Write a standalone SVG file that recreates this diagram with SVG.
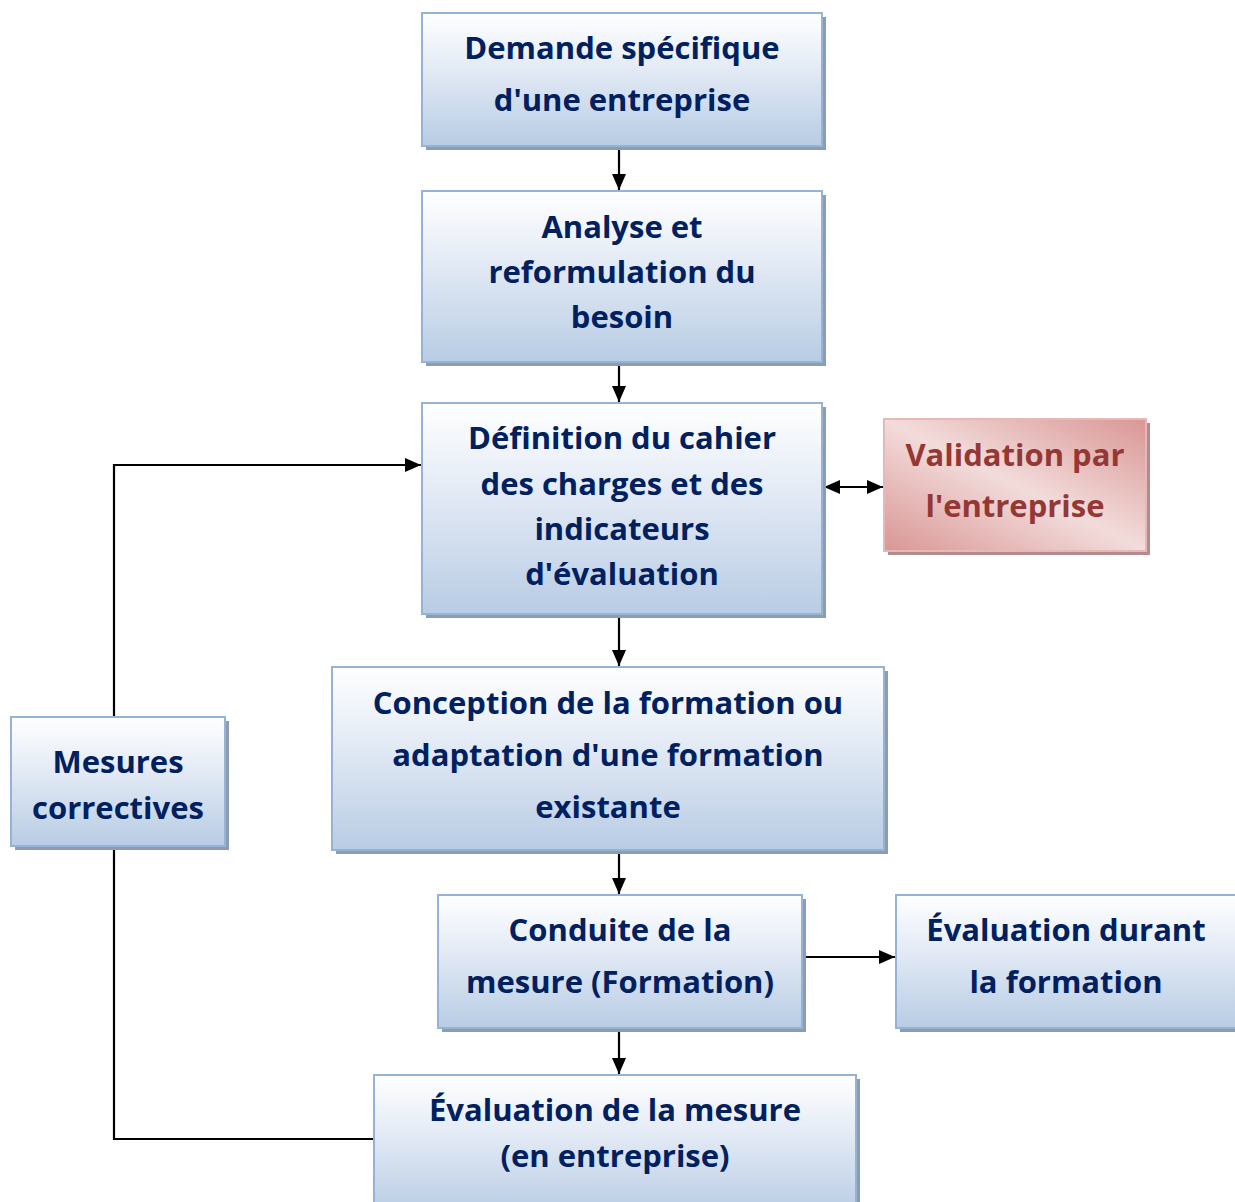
<svg xmlns="http://www.w3.org/2000/svg" width="1235" height="1202" viewBox="0 0 1235 1202">
<defs>
<linearGradient id="gb" x1="0" y1="0" x2="0" y2="1">
<stop offset="0" stop-color="#ffffff"/>
<stop offset="0.35" stop-color="#e8eef7"/>
<stop offset="1" stop-color="#b8cce4"/>
</linearGradient>
<linearGradient id="gr" x1="1" y1="0" x2="0" y2="1">
<stop offset="0" stop-color="#d99694"/>
<stop offset="0.5" stop-color="#f2dcdb"/>
<stop offset="1" stop-color="#d99694"/>
</linearGradient>
<marker id="ah" viewBox="0 0 16 14" refX="16" refY="7" markerWidth="16" markerHeight="14" markerUnits="userSpaceOnUse" orient="auto-start-reverse">
<path d="M0,0 L16,7 L0,14 Z" fill="#000"/>
</marker>
<style>
.sh{fill:#8e9cb0}
.shr{fill:#b38b8b}
.bx{fill:url(#gb);stroke:#95b3d7;stroke-width:2}
.rx{fill:url(#gr);stroke:#e6b9b8;stroke-width:2}
.t{font-family:"Open Sans","Liberation Sans",sans-serif;font-weight:bold;font-size:31px;fill:#002060;text-anchor:middle}
.tr{fill:#953735}
.c{fill:none;stroke:#000;stroke-width:2.2}
</style>
</defs>
<g id="connectors">
<line class="c" x1="619" y1="147" x2="619" y2="190" marker-end="url(#ah)"/>
<line class="c" x1="619" y1="363" x2="619" y2="402" marker-end="url(#ah)"/>
<line class="c" x1="619" y1="615" x2="619" y2="666" marker-end="url(#ah)"/>
<line class="c" x1="619" y1="851" x2="619" y2="894" marker-end="url(#ah)"/>
<line class="c" x1="619" y1="1029" x2="619" y2="1074" marker-end="url(#ah)"/>
<line class="c" x1="824" y1="487" x2="883" y2="487" marker-start="url(#ah)" marker-end="url(#ah)"/>
<line class="c" x1="803" y1="957" x2="895" y2="957" marker-end="url(#ah)"/>
<polyline class="c" points="114,717 114,465 421,465" marker-end="url(#ah)"/>
<polyline class="c" points="374,1139 114,1139 114,847"/>
</g>
<g id="n1">
<rect class="sh" x="426" y="17" width="400" height="133"/>
<rect class="bx" x="422" y="13" width="400" height="133"/>
<text class="t" x="622" y="59">Demande spécifique</text>
<text class="t" x="622" y="111">d'une entreprise</text>
</g>
<g id="n2">
<rect class="sh" x="426" y="195" width="400" height="171"/>
<rect class="bx" x="422" y="191" width="400" height="171"/>
<text class="t" x="622" y="238">Analyse et</text>
<text class="t" x="622" y="283">reformulation du</text>
<text class="t" x="622" y="328">besoin</text>
</g>
<g id="n3">
<rect class="sh" x="426" y="407" width="400" height="211"/>
<rect class="bx" x="422" y="403" width="400" height="211"/>
<text class="t" x="622" y="449">Définition du cahier</text>
<text class="t" x="622" y="495">des charges et des</text>
<text class="t" x="622" y="540">indicateurs</text>
<text class="t" x="622" y="585">d'évaluation</text>
</g>
<g id="n4">
<rect class="shr" x="888" y="423" width="262" height="132"/>
<rect class="rx" x="884" y="419" width="262" height="132"/>
<text class="t tr" x="1015" y="466">Validation par</text>
<text class="t tr" x="1015" y="517">l'entreprise</text>
</g>
<g id="n5">
<rect class="sh" x="336" y="671" width="552" height="183"/>
<rect class="bx" x="332" y="667" width="552" height="183"/>
<text class="t" x="608" y="714">Conception de la formation ou</text>
<text class="t" x="608" y="766">adaptation d'une formation</text>
<text class="t" x="608" y="818">existante</text>
</g>
<g id="n6">
<rect class="sh" x="15" y="721" width="214" height="129"/>
<rect class="bx" x="11" y="717" width="214" height="129"/>
<text class="t" x="118" y="773">Mesures</text>
<text class="t" x="118" y="819">correctives</text>
</g>
<g id="n7">
<rect class="sh" x="442" y="899" width="364" height="133"/>
<rect class="bx" x="438" y="895" width="364" height="133"/>
<text class="t" x="620" y="941">Conduite de la</text>
<text class="t" x="620" y="993">mesure (Formation)</text>
</g>
<g id="n8">
<rect class="sh" x="900" y="899" width="345" height="133"/>
<rect class="bx" x="896" y="895" width="345" height="133"/>
<text class="t" x="1066" y="941">Évaluation durant</text>
<text class="t" x="1066" y="993">la formation</text>
</g>
<g id="n9">
<rect class="sh" x="378" y="1079" width="482" height="140"/>
<rect class="bx" x="374" y="1075" width="482" height="140"/>
<text class="t" x="615" y="1121">Évaluation de la mesure</text>
<text class="t" x="615" y="1167">(en entreprise)</text>
</g>
</svg>
